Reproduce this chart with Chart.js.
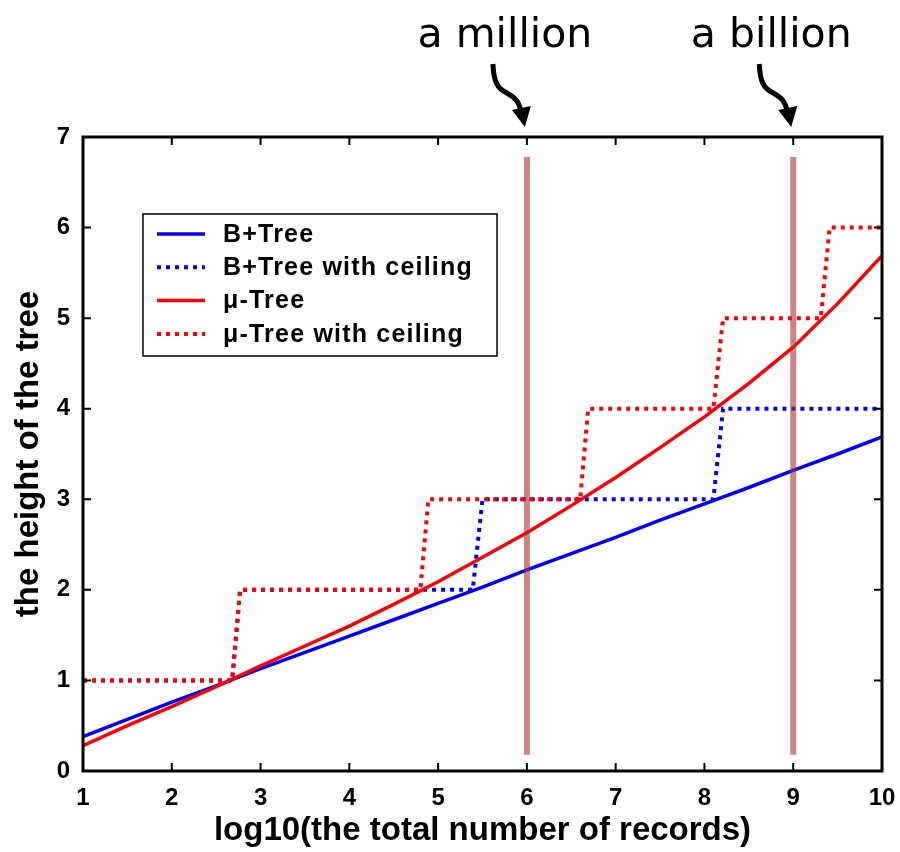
<!DOCTYPE html>
<html>
<head>
<meta charset="utf-8">
<script src="https://cdn.jsdelivr.net/npm/chart.js@4.4.0/dist/chart.umd.min.js"></script>
<style>
  html, body { margin: 0; padding: 0; background: #fff; }
  #wrap { width: 900px; height: 852px; }
</style>
</head>
<body>
<div id="wrap"><canvas id="treeChart" width="900" height="852"></canvas></div>
<script>
// Tree height vs log10(number of records)

const recordExp = [1, 1.5, 2, 2.5, 3, 3.5, 4, 4.5, 5, 5.5, 6, 6.5, 7, 7.5, 8, 8.5, 9, 9.5, 10];
const bPlusHeight = [0.38, 0.57, 0.76, 0.94, 1.13, 1.31, 1.49, 1.67, 1.85, 2.03, 2.22, 2.40, 2.58, 2.77, 2.95, 3.13, 3.32, 3.50, 3.69];
const muHeight = [0.28, 0.50, 0.71, 0.93, 1.16, 1.38, 1.60, 1.84, 2.09, 2.36, 2.63, 2.93, 3.24, 3.57, 3.91, 4.28, 4.68, 5.16, 5.69];

const bPlusCeilX = [1, 2.68, 2.77, 5.39, 5.50, 8.10, 8.21, 10];
const bPlusCeilY = [1, 1, 2, 2, 3, 3, 4, 4];
const muCeilX = [1, 2.68, 2.77, 4.80, 4.89, 6.60, 6.69, 8.10, 8.21, 9.31, 9.41, 10];
const muCeilY = [1, 1, 2, 2, 3, 3, 4, 4, 5, 5, 6, 6];

const markerX = [6, 9];
const markerSpan = [0.18, 6.78];
const markerNotes = ['a million', 'a billion'];

const xTicks = [1, 2, 3, 4, 5, 6, 7, 8, 9, 10];
const yTicks = [0, 1, 2, 3, 4, 5, 6, 7];

const FONT = "'Liberation Sans', Arial, Helvetica, sans-serif";

function toPoints(xs, ys) {
  return xs.map((x, i) => ({ x: x, y: ys[i] }));
}

// inward ticks + box frame
const frameTicks = {
  id: 'frameTicks',
  afterDatasetsDraw(chart) {
    const { ctx, chartArea: a, scales: { x, y } } = chart;
    ctx.save();
    ctx.strokeStyle = '#000';
    ctx.lineWidth = 2;
    ctx.beginPath();
    xTicks.forEach(v => {
      const px = x.getPixelForValue(v);
      ctx.moveTo(px, a.bottom); ctx.lineTo(px, a.bottom - 8);
      ctx.moveTo(px, a.top); ctx.lineTo(px, a.top + 8);
    });
    yTicks.forEach(v => {
      const py = y.getPixelForValue(v);
      ctx.moveTo(a.left, py); ctx.lineTo(a.left + 8, py);
      ctx.moveTo(a.right, py); ctx.lineTo(a.right - 8, py);
    });
    ctx.stroke();
    ctx.lineWidth = 3;
    ctx.strokeRect(a.left, a.top, a.right - a.left, a.bottom - a.top);
    ctx.restore();
  }
};

// legend box inside the plot
const boxLegend = {
  id: 'boxLegend',
  afterDraw(chart) {
    const ctx = chart.ctx;
    const items = chart.data.datasets.filter(d => !d.hideInLegend);
    ctx.save();
    ctx.fillStyle = '#fff';
    ctx.fillRect(143, 214, 354, 142);
    ctx.strokeStyle = '#000';
    ctx.lineWidth = 1.5;
    ctx.strokeRect(143, 214, 354, 142);
    ctx.font = 'bold 25px ' + FONT;
    ctx.letterSpacing = '1.2px';
    ctx.textBaseline = 'middle';
    items.forEach((d, i) => {
      const ry = 234 + i * 33.3;
      ctx.beginPath();
      ctx.strokeStyle = d.borderColor;
      ctx.lineWidth = d.borderWidth;
      ctx.setLineDash(d.borderDash || []);
      ctx.moveTo(157, ry);
      ctx.lineTo(205, ry);
      ctx.stroke();
      ctx.setLineDash([]);
      ctx.fillStyle = '#000';
      ctx.fillText(d.label, 223, ry + 1);
    });
    ctx.restore();
  }
};

// "a million" / "a billion" notes with curly arrows
const markerNotesPlugin = {
  id: 'markerNotes',
  afterDraw(chart) {
    const { ctx, scales: { x } } = chart;
    ctx.save();
    ctx.fillStyle = '#000';
    ctx.strokeStyle = '#000';
    ctx.font = "41px 'DejaVu Sans', sans-serif";
    ctx.textAlign = 'center';
    ctx.textBaseline = 'alphabetic';
    markerX.forEach((mx, i) => {
      const px = x.getPixelForValue(mx);
      ctx.fillText(markerNotes[i], px - 22, 47);
      const tx = px - 2;
      ctx.lineWidth = 5;
      ctx.beginPath();
      ctx.moveTo(tx - 32, 64);
      ctx.bezierCurveTo(tx - 31, 82, tx - 28, 88, tx - 18, 93);
      ctx.bezierCurveTo(tx - 9, 98, tx - 6, 102, tx - 4, 111);
      ctx.stroke();
      ctx.beginPath();
      ctx.moveTo(tx - 13, 110);
      ctx.lineTo(tx + 6, 106);
      ctx.lineTo(tx, 127);
      ctx.closePath();
      ctx.fill();
    });
    ctx.restore();
  }
};

const markerSets = markerX.map(mx => ({
  label: 'marker ' + mx,
  hideInLegend: true,
  data: [{ x: mx, y: markerSpan[0] }, { x: mx, y: markerSpan[1] }],
  borderColor: 'rgba(170, 50, 50, 0.6)',
  borderWidth: 6,
  pointRadius: 0,
  order: 0
}));

new Chart(document.getElementById('treeChart'), {
  type: 'line',
  data: {
    datasets: [
      {
        label: 'B+Tree',
        data: toPoints(recordExp, bPlusHeight),
        borderColor: '#0000ff',
        borderWidth: 3.5,
        pointRadius: 0,
        order: 4
      },
      {
        label: 'B+Tree with ceiling',
        data: toPoints(bPlusCeilX, bPlusCeilY),
        borderColor: '#0000ff',
        borderWidth: 4,
        borderDash: [4, 5],
        pointRadius: 0,
        order: 3
      },
      {
        label: 'μ-Tree',
        data: toPoints(recordExp, muHeight),
        borderColor: '#ff0000',
        borderWidth: 3.5,
        pointRadius: 0,
        order: 2
      },
      {
        label: 'μ-Tree with ceiling',
        data: toPoints(muCeilX, muCeilY),
        borderColor: '#ff0000',
        borderWidth: 4,
        borderDash: [4, 5],
        pointRadius: 0,
        order: 1
      }
    ].concat(markerSets)
  },
  options: {
    responsive: false,
    animation: false,
    devicePixelRatio: 1,
    layout: { padding: { top: 137, right: 18, left: 0, bottom: 0 } },
    plugins: {
      legend: { display: false },
      tooltip: { enabled: false }
    },
    scales: {
      x: {
        type: 'linear',
        min: 1,
        max: 10,
        afterBuildTicks: scale => { scale.ticks = xTicks.map(v => ({ value: v })); },
        afterFit: scale => {
          scale.height = 81;
          scale.paddingLeft = 0;
          scale.paddingRight = 0;
        },
        grid: { display: false, drawTicks: false },
        border: { display: false },
        ticks: {
          color: '#000',
          padding: 13,
          font: { family: FONT, size: 24, weight: 'bold' }
        },
        title: {
          display: true,
          text: 'log10(the total number of records)',
          color: '#000',
          padding: { top: 0, bottom: 1 },
          font: { family: FONT, size: 33, weight: 'bold' }
        }
      },
      y: {
        type: 'linear',
        min: 0,
        max: 7,
        afterBuildTicks: scale => { scale.ticks = yTicks.map(v => ({ value: v })); },
        afterFit: scale => {
          scale.width = 83;
          scale.paddingTop = 0;
          scale.paddingBottom = 0;
        },
        grid: { display: false, drawTicks: false },
        border: { display: false },
        ticks: {
          color: '#000',
          padding: 13,
          font: { family: FONT, size: 24, weight: 'bold' }
        },
        title: {
          display: true,
          text: 'the height of the tree',
          color: '#000',
          padding: { top: 9, bottom: 0 },
          font: { family: FONT, size: 33, weight: 'bold' }
        }
      }
    }
  },
  plugins: [frameTicks, boxLegend, markerNotesPlugin]
});
</script>
</body>
</html>
